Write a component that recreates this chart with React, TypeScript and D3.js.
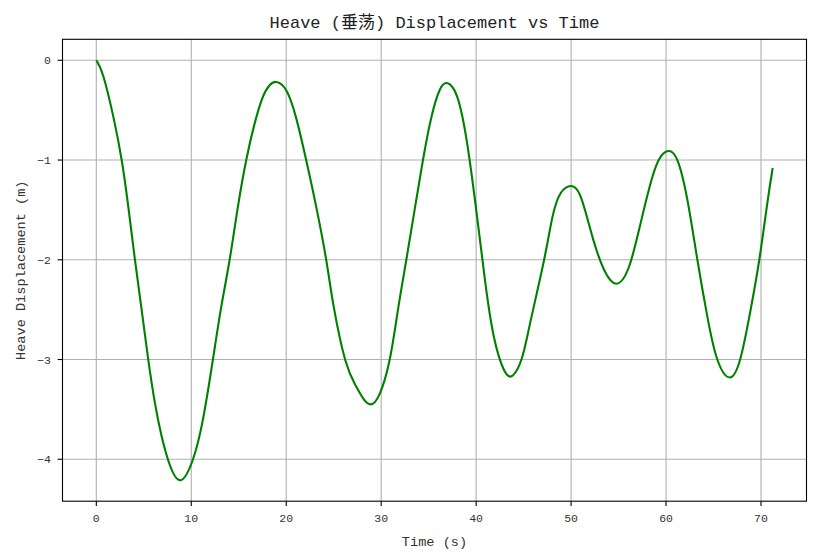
import React from 'react';
import * as d3 from 'd3';

const times = [
  0, 0.74, 1.79, 2.67, 3.37, 4.07, 4.77, 5.47, 6.18, 6.88, 7.75, 8.9, 10.18, 11.23, 12.28, 13.16, 14.04, 14.91,
  15.79, 16.67, 17.54, 18.25, 18.95, 20.0, 21.05, 22.1, 23.16, 24.21, 25.0, 26.2, 27.25, 28.1, 28.9, 29.82, 30.9,
  31.77, 32.65, 33.52, 34.4, 35.3, 36.2, 37.0, 38.0, 39.05, 40.1, 40.98, 41.86, 42.91, 43.86, 44.84, 45.72, 47.16,
  48.04, 48.91, 50.0, 51.02, 52.25, 53.47, 54.77, 56.1, 57.33, 58.56, 59.44, 60.25, 61.19, 62.25, 63.3, 64.35,
  65.4, 66.72, 67.86, 68.91, 69.82, 70.67, 71.23,
];
const heave = [
  0, -0.16, -0.565, -1.0, -1.47, -2.0, -2.5, -3.0, -3.44, -3.77, -4.06, -4.21, -4.0, -3.6, -3.0, -2.47, -2.0, -1.47,
  -1.0, -0.635, -0.367, -0.25, -0.217, -0.3, -0.58, -1.0, -1.47, -2.0, -2.47, -3.0, -3.25, -3.39, -3.45, -3.35, -3.0,
  -2.5, -2.0, -1.5, -1.0, -0.565, -0.29, -0.23, -0.364, -0.83, -1.57, -2.24, -2.77, -3.1, -3.16, -2.98, -2.62, -2.0,
  -1.57, -1.33, -1.26, -1.37, -1.77, -2.1, -2.24, -2.07, -1.63, -1.17, -0.966, -0.91, -1.0, -1.4, -2.0, -2.57,
  -3.0, -3.18, -2.98, -2.5, -2.0, -1.43, -1.08,
];
const xTicks = [0, 10, 20, 30, 40, 50, 60, 70];
const yTicks = [0, -1, -2, -3, -4];

const titleText = 'Heave (垂荡) Displacement vs Time';
const xLabelText = 'Time (s)';
const yLabelText = 'Heave Displacement (m)';

const FONT = "'Liberation Mono', 'Noto Sans CJK SC', monospace";

export default function App() {
  const W = 817;
  const H = 558;
  const left = 62.5;
  const right = 806.5;
  const top = 39.3;
  const bottom = 501.2;

  const [x0, x1] = d3.extent(times) as [number, number];
  const [y0, y1] = d3.extent(heave) as [number, number];
  const dx = x1 - x0;
  const dy = y1 - y0;
  const x = d3.scaleLinear().domain([x0 - 0.05 * dx, x1 + 0.05 * dx]).range([left, right]);
  const y = d3.scaleLinear().domain([y0 - 0.05 * dy, y1 + 0.05 * dy]).range([bottom, top]);

  const line = d3
    .line<number>()
    .x((_, i) => x(times[i]))
    .y((d) => y(d))
    .curve(d3.curveNatural);

  const fmt = (v: number) => (v < 0 ? '\u2212' + Math.abs(v) : String(v));

  return (
    <svg
      width={W}
      height={H}
      viewBox={`0 0 ${W} ${H}`}
      style={{ position: 'absolute', left: 0, top: 0, background: '#fff' }}
    >
      <rect x={0} y={0} width={W} height={H} fill="#fff" />
      <g>
        {xTicks.map((t) => (
          <line key={'gx' + t} x1={x(t)} x2={x(t)} y1={top} y2={bottom} stroke="#b0b0b0" strokeWidth={1.1} />
        ))}
        {yTicks.map((t) => (
          <line key={'gy' + t} x1={left} x2={right} y1={y(t)} y2={y(t)} stroke="#b0b0b0" strokeWidth={1.1} />
        ))}
      </g>
      <path d={line(heave) || ''} fill="none" stroke="#008000" strokeWidth={2.1} strokeLinejoin="round" strokeLinecap="butt" />
      <rect x={left} y={top} width={right - left} height={bottom - top} fill="none" stroke="#000" strokeWidth={1.1} />
      <g fontFamily={FONT} fontSize={11.5} fill="#333">
        {xTicks.map((t) => (
          <g key={'tx' + t}>
            <line x1={x(t)} x2={x(t)} y1={bottom} y2={bottom + 4.9} stroke="#000" strokeWidth={1.1} />
            <text x={x(t)} y={522} textAnchor="middle">
              {fmt(t)}
            </text>
          </g>
        ))}
        {yTicks.map((t) => (
          <g key={'ty' + t}>
            <line x1={left - 4.9} x2={left} y1={y(t)} y2={y(t)} stroke="#000" strokeWidth={1.1} />
            <text x={51} y={y(t)} dy="0.35em" textAnchor="end">
              {fmt(t)}
            </text>
          </g>
        ))}
      </g>
      <text x={(left + right) / 2} y={546} textAnchor="middle" fontFamily={FONT} fontSize={13.6} fill="#333">
        {xLabelText}
      </text>
      <text
        transform={`translate(25, ${(top + bottom) / 2}) rotate(-90)`}
        textAnchor="middle"
        fontFamily={FONT}
        fontSize={13.6}
        fill="#333"
      >
        {yLabelText}
      </text>
      <text x={(left + right) / 2} y={28} textAnchor="middle" fontFamily={FONT} fontSize={17} fill="#222">
        {titleText}
      </text>
    </svg>
  );
}
